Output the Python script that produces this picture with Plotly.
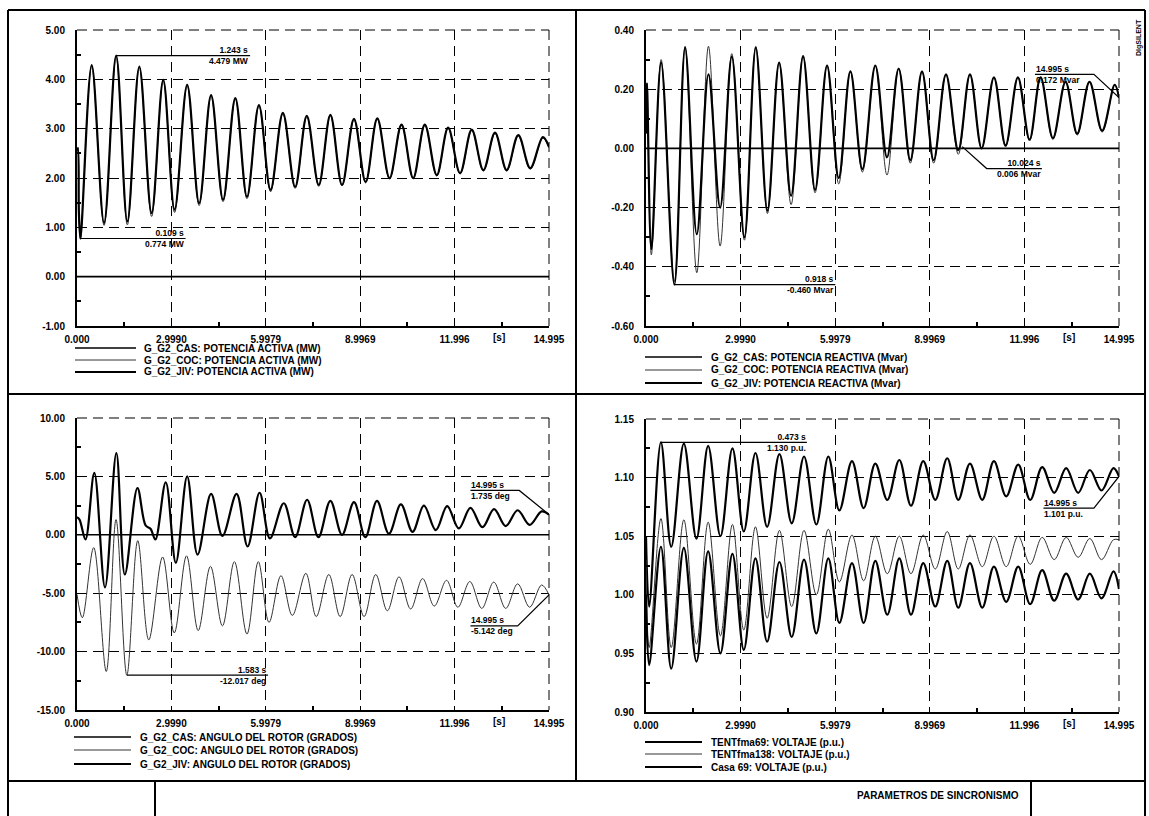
import plotly.graph_objects as go

W, H = 1149, 816

# ------------------------------------------------------------------ data
T_TICKS = [0.0, 2.999, 5.998, 8.997, 11.996, 14.995]
T_LABELS = ["0.000", "2.9990", "5.9979", "8.9969", "11.996", "14.995"]
T_MINOR = [1.4995, 4.4985, 7.4975, 10.4965, 13.4955]
T_END = 14.995

# Top-left: active power (MW)
P_T = [0.0, 0.03, 0.06, 0.109, 0.467, 0.86, 1.243, 1.60, 1.98, 2.37, 2.74, 3.10, 3.50, 3.88,
       4.26, 4.64, 5.03, 5.40, 5.78, 6.15, 6.54, 6.93, 7.30, 7.68, 8.05, 8.42, 8.80, 9.17,
       9.54, 9.93, 10.31, 10.68, 11.05, 11.43, 11.79, 12.17, 12.54, 12.91, 13.28, 13.65,
       14.02, 14.40, 14.80, 14.995]
P_JIV = [2.55, 2.60, 1.30, 0.774, 4.29, 1.09, 4.479, 1.12, 4.26, 1.29, 3.99, 1.36, 3.89, 1.49,
         3.68, 1.56, 3.62, 1.62, 3.48, 1.76, 3.32, 1.82, 3.26, 1.86, 3.28, 1.86, 3.20, 1.92,
         3.21, 2.00, 3.08, 2.00, 3.08, 2.06, 3.02, 2.10, 2.98, 2.16, 2.92, 2.16, 2.87, 2.20,
         2.83, 2.63]
P_COC = [2.55, 2.62, 1.25, 0.76, 4.27, 1.04, 4.46, 1.05, 4.24, 1.22, 3.97, 1.30, 3.87, 1.44,
         3.66, 1.52, 3.60, 1.58, 3.46, 1.72, 3.30, 1.79, 3.24, 1.83, 3.26, 1.84, 3.18, 1.90,
         3.19, 1.98, 3.06, 1.98, 3.06, 2.04, 3.00, 2.08, 2.96, 2.14, 2.90, 2.14, 2.85, 2.18,
         2.81, 2.61]
P_CAS_T = [0.0, 14.995]
P_CAS = [0.0, 0.0]

# Top-right: reactive power (Mvar)
Q_T = [0.0, 0.03, 0.17, 0.48, 0.90, 1.24, 1.61, 1.98, 2.35, 2.72, 3.12, 3.48, 3.85, 4.22,
       4.60, 4.98, 5.36, 5.74, 6.11, 6.48, 6.86, 7.27, 7.64, 8.01, 8.38, 8.75, 9.12, 9.51,
       9.90, 10.27, 10.64, 11.03, 11.40, 11.79, 12.16, 12.51, 12.90, 13.30, 13.67, 14.06,
       14.46, 14.86, 14.995]
Q_JIV = [0.05, 0.22, -0.34, 0.29, -0.46, 0.34, -0.29, 0.25, -0.20, 0.31, -0.30, 0.34, -0.21,
         0.29, -0.16, 0.31, -0.14, 0.28, -0.10, 0.26, -0.07, 0.28, -0.03, 0.27, -0.04, 0.26,
         -0.04, 0.25, -0.006, 0.25, 0.00, 0.24, 0.01, 0.24, 0.03, 0.24, 0.035, 0.225, 0.05,
         0.225, 0.06, 0.215, 0.172]
Q_COC = [0.05, 0.22, -0.36, 0.30, -0.45, 0.345, -0.42, 0.345, -0.33, 0.32, -0.31, 0.345,
         -0.22, 0.29, -0.19, 0.315, -0.15, 0.28, -0.12, 0.26, -0.08, 0.28, -0.09, 0.27, -0.05,
         0.26, -0.05, 0.25, -0.02, 0.25, 0.00, 0.24, 0.005, 0.24, 0.025, 0.24, 0.03, 0.225,
         0.045, 0.225, 0.055, 0.215, 0.17]
Q_CAS_T = [0.0, 14.995]
Q_CAS = [0.0, 0.0]

# Bottom-left: rotor angle (deg)
A_JIV_T = [0.00, 0.08, 0.27, 0.55, 0.89, 1.25, 1.52, 1.92, 2.18, 2.34, 2.49, 2.82, 3.14, 3.50,
           3.83, 4.26, 4.62, 5.07, 5.42, 5.80, 6.13, 6.57, 6.93, 7.31, 7.67, 8.05, 8.42, 8.80,
           9.16, 9.53, 9.91, 10.29, 10.66, 11.02, 11.40, 11.76, 12.13, 12.50, 12.88, 13.25,
           13.62, 14.00, 14.38, 14.76, 14.995]
A_JIV = [1.5, 1.3, -0.4, 5.3, -4.5, 7.0, -3.4, 4.0, 0.8, 0.5, -0.4, 4.5, -2.4, 5.0, -1.7, 3.5,
         -0.1, 3.5, -1.0, 3.6, -0.3, 2.7, -0.2, 3.0, -0.2, 2.9, 0.0, 2.8, -0.2, 2.9, 0.1, 2.6,
         0.25, 2.5, 0.4, 2.45, 0.55, 2.3, 0.65, 2.2, 0.75, 2.1, 0.85, 2.0, 1.735]
A_COC_T = [0.00, 0.17, 0.53, 0.93, 1.24, 1.583, 1.93, 2.28, 2.72, 3.09, 3.48, 3.85, 4.24, 4.62,
           5.00, 5.40, 5.76, 6.10, 6.48, 6.84, 7.27, 7.60, 8.00, 8.36, 8.74, 9.12, 9.49, 9.86,
           10.23, 10.60, 10.98, 11.35, 11.74, 12.10, 12.48, 12.86, 13.24, 13.62, 14.00, 14.38,
           14.76, 14.995]
A_COC = [-5.1, -7.1, -1.1, -11.7, 1.3, -12.017, -0.5, -9.0, -1.9, -8.4, -1.8, -8.2, -2.7, -7.8,
         -2.3, -8.5, -2.3, -7.5, -3.5, -6.9, -3.3, -7.0, -3.4, -7.0, -3.4, -7.0, -3.4, -6.5,
         -3.6, -6.35, -3.75, -6.1, -3.9, -6.2, -4.0, -6.3, -4.05, -6.3, -4.2, -6.2, -4.3, -5.142]
A_CAS_T = [0.0, 14.995]
A_CAS = [0.0, 0.0]

# Bottom-right: voltages (p.u.)
V_T = [0.0, 0.10, 0.473, 0.80, 1.20, 1.60, 1.97, 2.36, 2.74, 3.10, 3.47, 3.84, 4.23, 4.62,
       5.01, 5.40, 5.78, 6.13, 6.53, 6.90, 7.27, 7.65, 8.03, 8.40, 8.79, 9.17, 9.55, 9.90,
       10.27, 10.66, 11.03, 11.42, 11.80, 12.18, 12.56, 12.94, 13.32, 13.70, 14.07, 14.44,
       14.82, 14.995]
V_69 = [1.05, 0.99, 1.130, 1.041, 1.129, 1.048, 1.127, 1.050, 1.125, 1.054, 1.121, 1.058,
        1.120, 1.061, 1.118, 1.060, 1.118, 1.072, 1.114, 1.074, 1.112, 1.081, 1.115, 1.076,
        1.114, 1.081, 1.1165, 1.081, 1.112, 1.081, 1.114, 1.084, 1.111, 1.081, 1.109, 1.087,
        1.108, 1.087, 1.1065, 1.089, 1.108, 1.101]
V_138 = [1.03, 0.955, 1.065, 0.955, 1.064, 0.958, 1.062, 0.965, 1.060, 0.970, 1.058, 0.980,
         1.055, 0.990, 1.055, 1.000, 1.056, 1.011, 1.051, 1.012, 1.050, 1.018, 1.050, 1.018,
         1.051, 1.022, 1.054, 1.022, 1.051, 1.024, 1.050, 1.024, 1.050, 1.026, 1.049, 1.030,
         1.049, 1.032, 1.048, 1.030, 1.047, 1.047]
V_CASA = [1.00, 0.94, 1.041, 0.937, 1.040, 0.943, 1.037, 0.950, 1.035, 0.953, 1.031, 0.960,
          1.028, 0.964, 1.030, 0.967, 1.031, 0.976, 1.027, 0.976, 1.029, 0.983, 1.031, 0.983,
          1.027, 0.990, 1.029, 0.989, 1.027, 0.989, 1.024, 0.994, 1.024, 0.992, 1.021, 0.995,
          1.018, 0.996, 1.018, 0.997, 1.020, 1.005]

# y-axis ticks
P_YTICKS = [-1, 0, 1, 2, 3, 4, 5]
P_YLABELS = ["-1.00", "0.00", "1.00", "2.00", "3.00", "4.00", "5.00"]
Q_YTICKS = [-0.6, -0.4, -0.2, 0.0, 0.2, 0.4]
Q_YLABELS = ["-0.60", "-0.40", "-0.20", "0.00", "0.20", "0.40"]
A_YTICKS = [-15, -10, -5, 0, 5, 10]
A_YLABELS = ["-15.00", "-10.00", "-5.00", "0.00", "5.00", "10.00"]
V_YTICKS = [0.90, 0.95, 1.00, 1.05, 1.10, 1.15]
V_YLABELS = ["0.90", "0.95", "1.00", "1.05", "1.10", "1.15"]

LEG_TL = ["G_G2_CAS: POTENCIA ACTIVA (MW)", "G_G2_COC: POTENCIA ACTIVA (MW)",
          "G_G2_JIV: POTENCIA ACTIVA (MW)"]
LEG_TR = ["G_G2_CAS: POTENCIA REACTIVA (Mvar)", "G_G2_COC: POTENCIA REACTIVA (Mvar)",
          "G_G2_JIV: POTENCIA REACTIVA (Mvar)"]
LEG_BL = ["G_G2_CAS: ANGULO DEL ROTOR (GRADOS)", "G_G2_COC: ANGULO DEL ROTOR (GRADOS)",
          "G_G2_JIV: ANGULO DEL ROTOR (GRADOS)"]
LEG_BR = ["TENTfma69: VOLTAJE (p.u.)", "TENTfma138: VOLTAJE (p.u.)", "Casa 69: VOLTAJE (p.u.)"]

TITLE_BLOCK = "PARAMETROS DE SINCRONISMO"

# ------------------------------------------------------------------ helpers
FONT = "Liberation Sans"
BOLD = dict(family=FONT, color="black", weight="bold")
DASH = "10px,6px"


def fx(px):
    return px / W


def fy(py):
    return 1 - py / H


# panel geometry in pixels: (x0, x1, ytop, ybottom)
GEOM = {
    1: (77, 549, 30, 326),
    2: (646, 1119, 30, 326),
    3: (77, 549, 418, 710),
    4: (646, 1119, 419, 712),
}

fig = go.Figure()
layout = dict(
    width=W, height=H, margin=dict(l=0, r=0, t=0, b=0),
    paper_bgcolor="white", plot_bgcolor="white", showlegend=False,
    template="none", hovermode=False,
)
shapes = []
annotations = []


def add_axes(i, yrange, yticks, ylabels, yminor):
    x0, x1, yt, yb = GEOM[i]
    sx = "" if i == 1 else str(i)
    common = dict(showgrid=True, gridcolor="black", gridwidth=1, griddash=DASH,
                  showline=True, linecolor="black", linewidth=2, zeroline=False,
                  ticks="", tickfont=dict(size=10, **BOLD), fixedrange=True)
    layout["xaxis" + sx] = dict(
        domain=[fx(x0), fx(x1)], anchor="y" + sx, range=[0, T_END],
        tickmode="array", tickvals=T_TICKS, ticktext=T_LABELS, ticklabelstandoff=3,
        minor=dict(tickmode="array", tickvals=T_MINOR, ticks="inside", ticklen=4,
                   tickwidth=1.5, tickcolor="black", showgrid=False),
        **common)
    layout["yaxis" + sx] = dict(
        domain=[fy(yb), fy(yt)], anchor="x" + sx, range=list(yrange),
        tickmode="array", tickvals=yticks, ticktext=ylabels, ticklabelstandoff=8,
        minor=dict(tickmode="array", tickvals=yminor, ticks="inside", ticklen=4,
                   tickwidth=1.5, tickcolor="black", showgrid=False),
        **common)
    # dashed top and right borders (grid lines at the range edges)
    shapes.append(dict(type="line", xref="paper", yref="paper", x0=fx(x0), x1=fx(x1),
                       y0=fy(yt), y1=fy(yt), line=dict(color="black", width=1, dash=DASH)))
    shapes.append(dict(type="line", xref="paper", yref="paper", x0=fx(x1), x1=fx(x1),
                       y0=fy(yt), y1=fy(yb), line=dict(color="black", width=1, dash=DASH)))


add_axes(1, (-1, 5), P_YTICKS, P_YLABELS, [-0.5, 0.5, 1.5, 2.5, 3.5, 4.5])
add_axes(2, (-0.6, 0.4), Q_YTICKS, Q_YLABELS, [-0.5, -0.3, -0.1, 0.1, 0.3])
add_axes(3, (-15, 10), A_YTICKS, A_YLABELS, [-12.5, -7.5, -2.5, 2.5, 7.5])
add_axes(4, (0.90, 1.15), V_YTICKS, V_YLABELS, [0.925, 0.975, 1.025, 1.075, 1.125])


def line(i, x, y, width, color="black"):
    sx = "" if i == 1 else str(i)
    fig.add_trace(go.Scatter(
        x=x, y=y, mode="lines", xaxis="x" + sx, yaxis="y" + sx,
        line=dict(color=color, width=width, shape="spline", smoothing=1.0),
        hoverinfo="skip", showlegend=False))


W_CAS, W_COC, W_JIV = 1.6, 1.0, 2.2
C_COC = "#333333"

line(1, P_CAS_T, P_CAS, W_CAS)
line(1, P_T, P_COC, W_COC, C_COC)
line(1, P_T, P_JIV, W_JIV)

line(2, Q_CAS_T, Q_CAS, W_CAS)
line(2, Q_T, Q_COC, W_COC, C_COC)
line(2, Q_T, Q_JIV, W_JIV)

line(3, A_CAS_T, A_CAS, W_CAS)
line(3, A_COC_T, A_COC, W_COC, C_COC)
line(3, A_JIV_T, A_JIV, W_JIV)

line(4, V_T, V_69, W_JIV)
line(4, V_T, V_138, W_COC, C_COC)
line(4, V_T, V_CASA, W_JIV)

# ------------------------------------------------------------------ value labels
# (panel, point t, point v, bend t, bend v, end t, text, text anchor)
LABELS = [
    (1, 1.243, 4.479, None, None, 5.50, "1.243 s<br>4.479 MW", "right"),
    (1, 0.109, 0.774, None, None, 3.45, "0.109 s<br>0.774 MW", "right"),
    (2, 0.918, -0.460, None, None, 6.00, "0.918 s<br>-0.460 Mvar", "right"),
    (2, 10.024, 0.006, 10.80, -0.068, 12.55, "10.024 s<br>0.006 Mvar", "right"),
    (2, 14.995, 0.172, 14.20, 0.250, 12.33, "14.995 s<br>0.172 Mvar", "left"),
    (3, 14.995, 1.735, 14.05, 3.80, 12.50, "14.995 s<br>1.735 deg", "left"),
    (3, 14.995, -5.142, 14.00, -7.80, 12.50, "14.995 s<br>-5.142 deg", "left"),
    (3, 1.583, -12.017, None, None, 6.07, "1.583 s<br>-12.017 deg", "right"),
    (4, 0.473, 1.130, None, None, 5.10, "0.473 s<br>1.130 p.u.", "right"),
    (4, 14.995, 1.101, 14.20, 1.074, 12.60, "14.995 s<br>1.101 p.u.", "left"),
]
for (i, pt, pv, bt, bv, et, txt, anchor) in LABELS:
    sx = "" if i == 1 else str(i)
    if bt is None:
        path = f"M {pt},{pv} L {et},{pv}"
        ty = pv
    else:
        path = f"M {pt},{pv} L {bt},{bv} L {et},{bv}"
        ty = bv
    shapes.append(dict(type="path", xref="x" + sx, yref="y" + sx, path=path,
                       line=dict(color="black", width=1.2)))
    annotations.append(dict(xref="x" + sx, yref="y" + sx, x=et, y=ty, text=txt,
                            showarrow=False, xanchor=anchor, yanchor="middle",
                            align=anchor, borderpad=0, font=dict(size=8.5, **BOLD)))

# "[s]" unit labels on the time axes
for i in (1, 2, 3, 4):
    sx = "" if i == 1 else str(i)
    yb = GEOM[i][3]
    annotations.append(dict(xref="x" + sx, yref="paper", x=13.4, y=fy(yb + 11),
                            text="[s]", showarrow=False, xanchor="center",
                            yanchor="middle", font=dict(size=10, **BOLD)))

# ------------------------------------------------------------------ legends
LEGENDS = [
    (LEG_TL, 75, 136, 142, [348, 360, 372]),
    (LEG_TR, 645, 702, 709, [357, 370, 383]),
    (LEG_BL, 74, 131, 138, [737, 750, 764]),
    (LEG_BR, 645, 702, 709, [742, 754, 767]),
]
for k, (labels, lx0, lx1, tx, rows) in enumerate(LEGENDS):
    styles = [(W_CAS, "black"), (W_COC, C_COC), (W_JIV, "black")]
    if k == 3:
        styles = [(W_JIV, "black"), (W_COC, C_COC), (W_JIV, "black")]
    for (lab, ry, (wdt, col)) in zip(labels, rows, styles):
        shapes.append(dict(type="line", xref="paper", yref="paper",
                           x0=fx(lx0), x1=fx(lx1), y0=fy(ry), y1=fy(ry),
                           line=dict(color=col, width=wdt)))
        annotations.append(dict(xref="paper", yref="paper", x=fx(tx), y=fy(ry),
                                text=lab, showarrow=False, xanchor="left",
                                yanchor="middle", font=dict(size=10, **BOLD)))

# ------------------------------------------------------------------ frame
FRAME = [
    (8, 10, 1145, 10), (8, 10, 8, 816), (1145, 10, 1145, 816),
    (576, 10, 576, 781), (8, 394, 1145, 394), (8, 781, 1145, 781),
    (155, 781, 155, 816), (1031, 781, 1031, 816),
]
for (a, b, c, d) in FRAME:
    shapes.append(dict(type="line", xref="paper", yref="paper",
                       x0=fx(a), y0=fy(b), x1=fx(c), y1=fy(d),
                       line=dict(color="black", width=2)))

annotations.append(dict(xref="paper", yref="paper", x=fx(938), y=fy(795),
                        text=TITLE_BLOCK, showarrow=False, xanchor="center",
                        yanchor="middle", font=dict(size=10, **BOLD)))
annotations.append(dict(xref="paper", yref="paper", x=fx(1139), y=fy(38),
                        text="DIgSILENT", showarrow=False, textangle=-90,
                        xanchor="center", yanchor="middle", font=dict(size=7, **BOLD)))

layout["shapes"] = shapes
layout["annotations"] = annotations
fig.update_layout(**layout)

fig.write_html("out.html")
